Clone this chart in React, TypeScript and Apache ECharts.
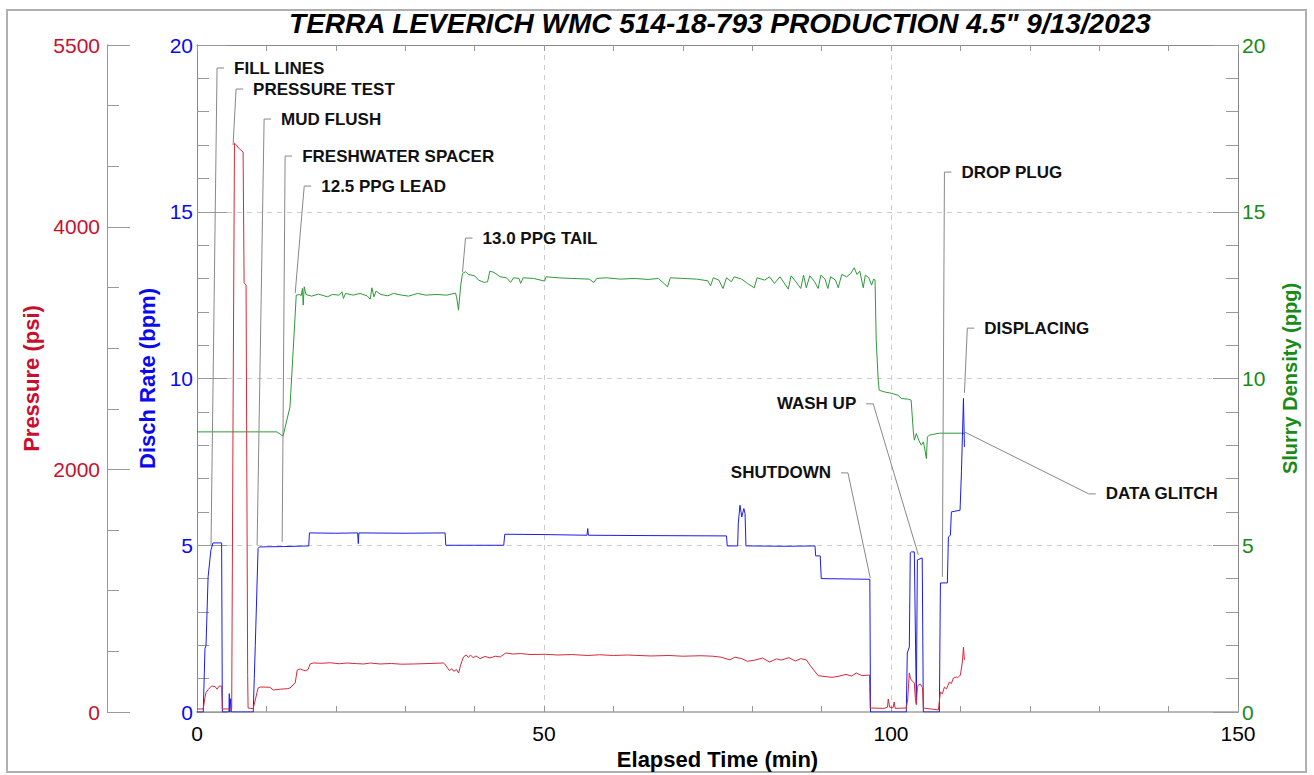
import React, { useEffect, useRef } from 'react';
import * as echarts from 'echarts';

const TITLE = 'TERRA LEVERICH WMC 514-18-793 PRODUCTION 4.5" 9/13/2023';
const X_NAME = 'Elapsed Time (min)';
const PRESSURE_NAME = 'Pressure (psi)';
const RATE_NAME = 'Disch Rate (bpm)';
const DENSITY_NAME = 'Slurry Density (ppg)';

const PRESSURE_LABEL_VALUES = [0, 2000, 4000, 5500];

// [elapsed min, bpm]
const RATE_DATA = [
  [0, 0], [0.9, 0], [1.15, 1.9], [1.3, 2.0], [1.6, 4.05], [2.0, 4.85], [2.3, 5.07], [3.55, 5.07], [3.65, 0],
  [4.6, 0], [4.65, 0.55], [4.72, 0], [4.85, 0.4], [4.95, 0], [8.1, 0], [8.25, 1.0], [8.4, 2.0], [8.8, 4.9], [9.0, 4.95],
  [12.5, 4.96], [16.1, 4.98], [16.2, 5.37], [20.0, 5.36], [23.15, 5.37], [23.24, 5.05], [23.33, 5.37], [30.0, 5.36],
  [35.75, 5.37], [35.85, 5.0], [40.0, 5.0], [44.2, 5.0], [44.35, 5.33], [50.0, 5.32], [56.2, 5.3], [56.3, 5.5], [56.4, 5.3],
  [65, 5.29], [76.3, 5.28], [76.4, 4.98], [77.9, 4.98], [78.0, 5.67], [78.24, 6.2], [78.5, 5.85], [78.8, 6.1], [78.97, 5.95],
  [79.1, 4.98], [85, 4.97], [89.05, 4.98], [89.15, 4.68], [89.8, 4.68], [89.95, 4.0], [96.95, 3.98], [97.05, 0],
  [102.2, 0], [102.35, 1.77], [102.64, 1.95], [102.78, 4.77], [102.93, 4.8], [103.36, 4.8], [103.65, 0.27], [103.8, 4.56],
  [104.5, 4.62], [104.66, 0], [106.97, 0], [107.12, 3.87], [108.12, 3.87], [108.27, 5.25], [108.56, 5.3], [108.7, 6.0],
  [109.95, 6.05], [110.15, 7.2], [110.29, 8.25], [110.44, 9.4], [110.5, 8.76], [110.58, 7.95],
];

// [elapsed min, psi]
const PRESSURE_DATA = [
  [0, 25], [0.9, 25], [1.15, 120], [1.3, 160], [1.6, 185], [2.1, 214], [2.6, 210], [2.9, 188], [3.2, 214], [3.55, 214],
  [3.65, 25], [5.0, 25], [5.2, 2500], [5.4, 4690], [5.6, 4680], [6.0, 4650], [6.64, 4618], [6.79, 3540], [7.07, 3520],
  [7.3, 300], [7.36, 33], [7.94, 28], [8.1, 30], [8.23, 58], [8.8, 198], [9.1, 206], [10.5, 204], [11.0, 181], [12.0, 188],
  [13.0, 192], [13.4, 198], [14.15, 240], [14.44, 346], [14.9, 355], [15.3, 345], [15.6, 340], [16.0, 350], [16.3, 396],
  [16.75, 404], [18, 402], [19.2, 406], [20.5, 398], [21.6, 404], [23, 399], [24, 396], [25, 404], [26.4, 396], [28, 400],
  [29.5, 394], [31.2, 396], [33, 399], [35.5, 404], [35.7, 396], [36.1, 363], [36.4, 340], [36.7, 358], [37.0, 336],
  [37.4, 350], [37.7, 322], [38.0, 390], [38.4, 454], [38.8, 470], [39.1, 450], [39.4, 470], [39.8, 448], [40.2, 462],
  [40.8, 440], [41.5, 458], [42.2, 446], [43.0, 460], [43.7, 454], [44.5, 487], [45.5, 478], [46.6, 482], [48, 474],
  [50.2, 476], [52, 470], [54, 474], [56.3, 466], [58, 472], [60, 466], [62, 470], [65.4, 462], [68, 466], [70, 460],
  [72.6, 464], [74.35, 460], [75.5, 452], [76.8, 430], [77.5, 452], [78.5, 440], [79.3, 418], [80.4, 428], [81.5, 445],
  [82.5, 412], [83.5, 438], [84.2, 428], [85.3, 448], [86.2, 420], [87.0, 440], [87.8, 430], [88.4, 380], [89.5, 300],
  [90.5, 292], [91.5, 286], [92.5, 295], [93.5, 310], [94.3, 296], [95.0, 322], [95.8, 300], [96.9, 305], [97.0, 33],
  [99.0, 30], [99.5, 40], [99.6, 107], [99.8, 40], [100.3, 35], [100.46, 82], [100.6, 30], [102.2, 33], [102.4, 100],
  [102.64, 322], [102.8, 280], [102.93, 264], [103.36, 239], [103.5, 120], [103.65, 60], [103.8, 200], [103.94, 223],
  [104.23, 231], [104.55, 200], [104.66, 33], [106.83, 17], [107.12, 165], [107.4, 150], [107.7, 206], [108.0, 190],
  [108.41, 247], [108.7, 235], [108.99, 280], [109.42, 289], [109.6, 282], [110.0, 305], [110.3, 420], [110.44, 536],
  [110.58, 430],
];

// [elapsed min, ppg]
const DENSITY_DATA = [
  [0, 8.4], [11.5, 8.4], [12.0, 8.33], [12.4, 8.27], [13.4, 9.15], [13.86, 10.85], [14.3, 12.5], [14.8, 12.52], [15.0, 12.48],
  [15.2, 12.7], [15.3, 12.2], [15.45, 12.75], [15.7, 12.52], [16.5, 12.47], [17.5, 12.53], [18.8, 12.45], [19.5, 12.52],
  [20.5, 12.5], [20.9, 12.6], [21.1, 12.4], [21.4, 12.55], [22.5, 12.5], [23.5, 12.55], [24.5, 12.48], [24.97, 12.38],
  [25.2, 12.72], [25.5, 12.45], [25.8, 12.62], [26.5, 12.52], [27.5, 12.48], [28.3, 12.55], [29.5, 12.5], [30.5, 12.47],
  [31.76, 12.55], [33.0, 12.5], [34.5, 12.52], [36.0, 12.5], [37.25, 12.56], [37.4, 12.45], [37.68, 12.05], [38.0, 12.8],
  [38.26, 13.15], [38.7, 13.2], [39.1, 13.12], [40.0, 13.08], [40.57, 12.95], [41.4, 12.88], [41.87, 12.9], [42.2, 13.22],
  [42.8, 13.18], [43.7, 13.05], [44.6, 13.02], [45.19, 12.88], [45.6, 13.02], [46.4, 13.0], [46.63, 12.85], [47.0, 13.02],
  [48.5, 13.0], [50.1, 12.92], [50.3, 13.05], [52, 13.02], [54, 13.0], [56.5, 12.98], [57.2, 12.88], [57.6, 13.0],
  [59, 13.02], [61, 12.98], [63, 13.0], [65, 12.97], [66.5, 13.0], [67.8, 12.75], [68.2, 13.02], [70, 13.0], [72, 12.98],
  [73.6, 12.93], [74.0, 12.78], [74.4, 13.02], [75.2, 12.95], [75.8, 12.7], [76.3, 13.02], [77.0, 12.9], [77.4, 13.05],
  [78.5, 12.98], [79.3, 12.85], [80.3, 12.72], [80.7, 13.02], [81.8, 12.95], [82.5, 13.05], [83.2, 12.85], [84.0, 13.05],
  [85.2, 12.68], [85.6, 13.08], [86.3, 12.9], [87.0, 12.7], [87.4, 13.1], [87.8, 12.72], [88.3, 13.08], [89.0, 12.9],
  [89.5, 12.7], [89.9, 13.1], [90.5, 12.98], [90.9, 12.7], [91.3, 13.05], [92.0, 12.95], [92.4, 12.72], [92.9, 13.12],
  [93.6, 13.05], [94.2, 13.15], [94.7, 13.32], [95.1, 13.12], [95.5, 13.22], [96.0, 12.72], [96.3, 13.1], [96.8, 13.02],
  [97.2, 12.8], [97.5, 12.98], [97.7, 12.95], [97.87, 11.15], [98.16, 9.95], [98.3, 9.65], [99.0, 9.6], [100.0, 9.56],
  [101.0, 9.5], [101.5, 9.4], [102.5, 9.38], [102.9, 9.35], [103.2, 8.45], [103.36, 8.15], [103.65, 8.35], [104.0, 8.15],
  [104.37, 8.0], [104.66, 8.1], [104.81, 7.95], [105.1, 7.6], [105.24, 8.25], [105.53, 8.3], [106.2, 8.33], [106.97, 8.36],
  [110.58, 8.36],
];

// Annotations (anchor and elbow given in [min, bpm-scale] data units)
const ANNOTATION_LABELS = ['FILL LINES', 'PRESSURE TEST', 'MUD FLUSH', 'FRESHWATER SPACER', '12.5 PPG LEAD', '13.0 PPG TAIL', 'SHUTDOWN', 'WASH UP', 'DROP PLUG', 'DISPLACING', 'DATA GLITCH'];
const ANNOTATION_ANCHORS = [[2.02, 5.0], [5.2, 17.0], [8.66, 5.0], [12.27, 5.1], [14.15, 12.56], [38.26, 13.19], [97.01, 4.02], [103.94, 4.71], [107.4, 4.05], [110.58, 9.57], [110.58, 8.4]];
const ANNOTATION_ELBOWS = [[2.89, 19.31], [5.63, 18.68], [9.67, 17.78], [12.7, 16.67], [15.45, 15.77], [38.69, 14.21], [93.8, 7.17], [97.44, 9.24], [107.7, 16.19], [111.0, 11.51], [128.5, 6.54]];
const ANNOTATION_SIDES = [1, 1, 1, 1, 1, 1, -1, -1, 1, 1, 1];

const RED = '#c8102e';
const BLUE = '#0a0af0';
const GREEN = '#178a17';
const AXIS_GRAY = '#999999';
const FONT = '"Liberation Sans", Arial, sans-serif';

export default function App() {
  const ref = useRef<HTMLDivElement>(null);
  useEffect(() => {
    document.body.style.margin = '0';
    const chart = echarts.init(ref.current!, null, { renderer: 'svg' });
    const tickStyle = { color: AXIS_GRAY, width: 1 };
    const plain = (v: number) => String(v);
    const option: any = {
      animation: false,
      backgroundColor: '#ffffff',
      textStyle: { fontFamily: FONT },
      grid: { left: 197, right: 76, top: 45, bottom: 63, containLabel: false, outerBoundsMode: 'none' },
      graphic: [
        { type: 'rect', silent: true, z: -10, shape: { x: 7, y: 10, width: 1299, height: 762 }, style: { fill: 'none', stroke: '#b0b0b0', lineWidth: 2 } },
        { type: 'text', silent: true, x: 720, y: 23, style: { text: TITLE, align: 'center', verticalAlign: 'middle', font: 'italic bold 28px ' + FONT, fill: '#000' } },
      ],
      xAxis: [
        {
          type: 'value', min: 0, max: 150, interval: 50, position: 'bottom',
          axisLine: { show: true, onZero: false, lineStyle: { color: '#b8b8b8', width: 2 } },
          axisTick: { show: true, inside: true, length: 6, lineStyle: tickStyle },
          axisLabel: { color: '#000', fontSize: 21, margin: 11, fontFamily: FONT, formatter: plain },
          splitLine: { show: true, lineStyle: { color: '#cccccc', type: [5, 5], width: 1 } },
          name: X_NAME, nameLocation: 'middle', nameGap: 32,
          nameTextStyle: { color: '#000', fontSize: 22, fontWeight: 'bold', fontFamily: FONT },
        },
        {
          type: 'value', min: 0, max: 150, interval: 10, position: 'bottom',
          axisLine: { show: false, onZero: false },
          axisTick: { show: true, inside: true, length: 6, lineStyle: tickStyle },
          axisLabel: { show: false }, splitLine: { show: false },
        },
        {
          type: 'value', min: 0, max: 150, interval: 10, position: 'top',
          axisLine: { show: true, onZero: false, lineStyle: { color: '#888888', width: 1 } },
          axisTick: { show: true, inside: true, length: 6, lineStyle: tickStyle },
          axisLabel: { show: false }, splitLine: { show: false },
        },
      ],
      yAxis: [
        {
          type: 'value', min: 0, max: 5500, interval: 500, position: 'left', offset: 90,
          axisLine: { show: true, onZero: false, lineStyle: { color: AXIS_GRAY } },
          axisTick: { show: true, inside: true, length: 12, lineStyle: tickStyle },
          axisLabel: { show: false }, splitLine: { show: false },
        },
        {
          type: 'value', min: 0, max: 5500, position: 'left', offset: 90,
          axisLine: { show: true, onZero: false, lineStyle: { color: AXIS_GRAY } },
          axisTick: { show: true, inside: true, length: 23, customValues: PRESSURE_LABEL_VALUES, lineStyle: tickStyle },
          axisLabel: { show: true, customValues: PRESSURE_LABEL_VALUES, color: RED, fontSize: 21, margin: 7, fontFamily: FONT, formatter: plain },
          splitLine: { show: false },
          name: PRESSURE_NAME, nameLocation: 'middle', nameRotate: 90, nameGap: 60,
          nameTextStyle: { color: RED, fontSize: 22, fontWeight: 'bold', fontFamily: FONT },
        },
        {
          type: 'value', min: 0, max: 20, interval: 1, position: 'left', offset: 0,
          axisLine: { show: true, onZero: false, lineStyle: { color: '#888888' } },
          axisTick: { show: true, inside: true, length: 12, lineStyle: tickStyle },
          axisLabel: { show: false }, splitLine: { show: false },
        },
        {
          type: 'value', min: 0, max: 20, interval: 5, position: 'left', offset: 0,
          axisLine: { show: true, onZero: false, lineStyle: { color: '#888888' } },
          axisTick: { show: true, inside: true, length: 30, lineStyle: tickStyle },
          axisLabel: { show: true, color: BLUE, fontSize: 21, margin: 4, fontFamily: FONT, formatter: plain },
          splitLine: { show: true, lineStyle: { color: '#cccccc', type: [5, 5], width: 1 } },
          name: RATE_NAME, nameLocation: 'middle', nameRotate: 90, nameGap: 38,
          nameTextStyle: { color: BLUE, fontSize: 22, fontWeight: 'bold', fontFamily: FONT },
        },
        {
          type: 'value', min: 0, max: 20, interval: 1, position: 'right', offset: 0,
          axisLine: { show: true, onZero: false, lineStyle: { color: '#888888' } },
          axisTick: { show: true, inside: true, length: 12, lineStyle: tickStyle },
          axisLabel: { show: false }, splitLine: { show: false },
        },
        {
          type: 'value', min: 0, max: 20, interval: 5, position: 'right', offset: 0,
          axisLine: { show: true, onZero: false, lineStyle: { color: '#888888' } },
          axisTick: { show: true, inside: true, length: 25, lineStyle: tickStyle },
          axisLabel: { show: true, color: GREEN, fontSize: 21, margin: 4, fontFamily: FONT, formatter: plain },
          splitLine: { show: false },
          name: DENSITY_NAME, nameLocation: 'middle', nameRotate: 90, nameGap: 42,
          nameTextStyle: { color: GREEN, fontSize: 20, fontWeight: 'bold', fontFamily: FONT },
        },
      ],
      series: [
        {
          type: 'line', name: 'Slurry Density', xAxisIndex: 0, yAxisIndex: 5, data: DENSITY_DATA,
          showSymbol: false, symbol: 'none', lineStyle: { color: '#2e9a3a', width: 1 }, z: 3,
        },
        {
          type: 'line', name: 'Disch Rate', xAxisIndex: 0, yAxisIndex: 3, data: RATE_DATA,
          showSymbol: false, symbol: 'none', lineStyle: { color: '#1c1ce6', width: 1 }, z: 4,
        },
        {
          type: 'line', name: 'Pressure', xAxisIndex: 0, yAxisIndex: 1, data: PRESSURE_DATA,
          showSymbol: false, symbol: 'none', lineStyle: { color: '#d42a3a', width: 1 }, z: 5,
        },
        {
          type: 'custom', name: 'Annotations', xAxisIndex: 0, yAxisIndex: 3, clip: false, z: 6,
          data: ANNOTATION_ANCHORS.map((a, i) => [a[0], a[1], ANNOTATION_ELBOWS[i][0], ANNOTATION_ELBOWS[i][1], i]),
          renderItem: (params: any, api: any) => {
            const i = api.value(4);
            const a = api.coord([api.value(0), api.value(1)]);
            const e = api.coord([api.value(2), api.value(3)]);
            const s = ANNOTATION_SIDES[i];
            return {
              type: 'group',
              children: [
                { type: 'polyline', shape: { points: [a, e, [e[0] + s * 7, e[1]]] }, style: { stroke: '#888888', lineWidth: 1, fill: 'none' } },
                {
                  type: 'text', x: e[0] + s * 17, y: e[1],
                  style: { text: ANNOTATION_LABELS[i], align: s > 0 ? 'left' : 'right', verticalAlign: 'middle', font: 'bold 17px ' + FONT, fill: '#111111' },
                },
              ],
            };
          },
        },
      ],
    };
    chart.setOption(option);
    return () => chart.dispose();
  }, []);
  return <div ref={ref} style={{ width: 1314, height: 775 }} />;
}
